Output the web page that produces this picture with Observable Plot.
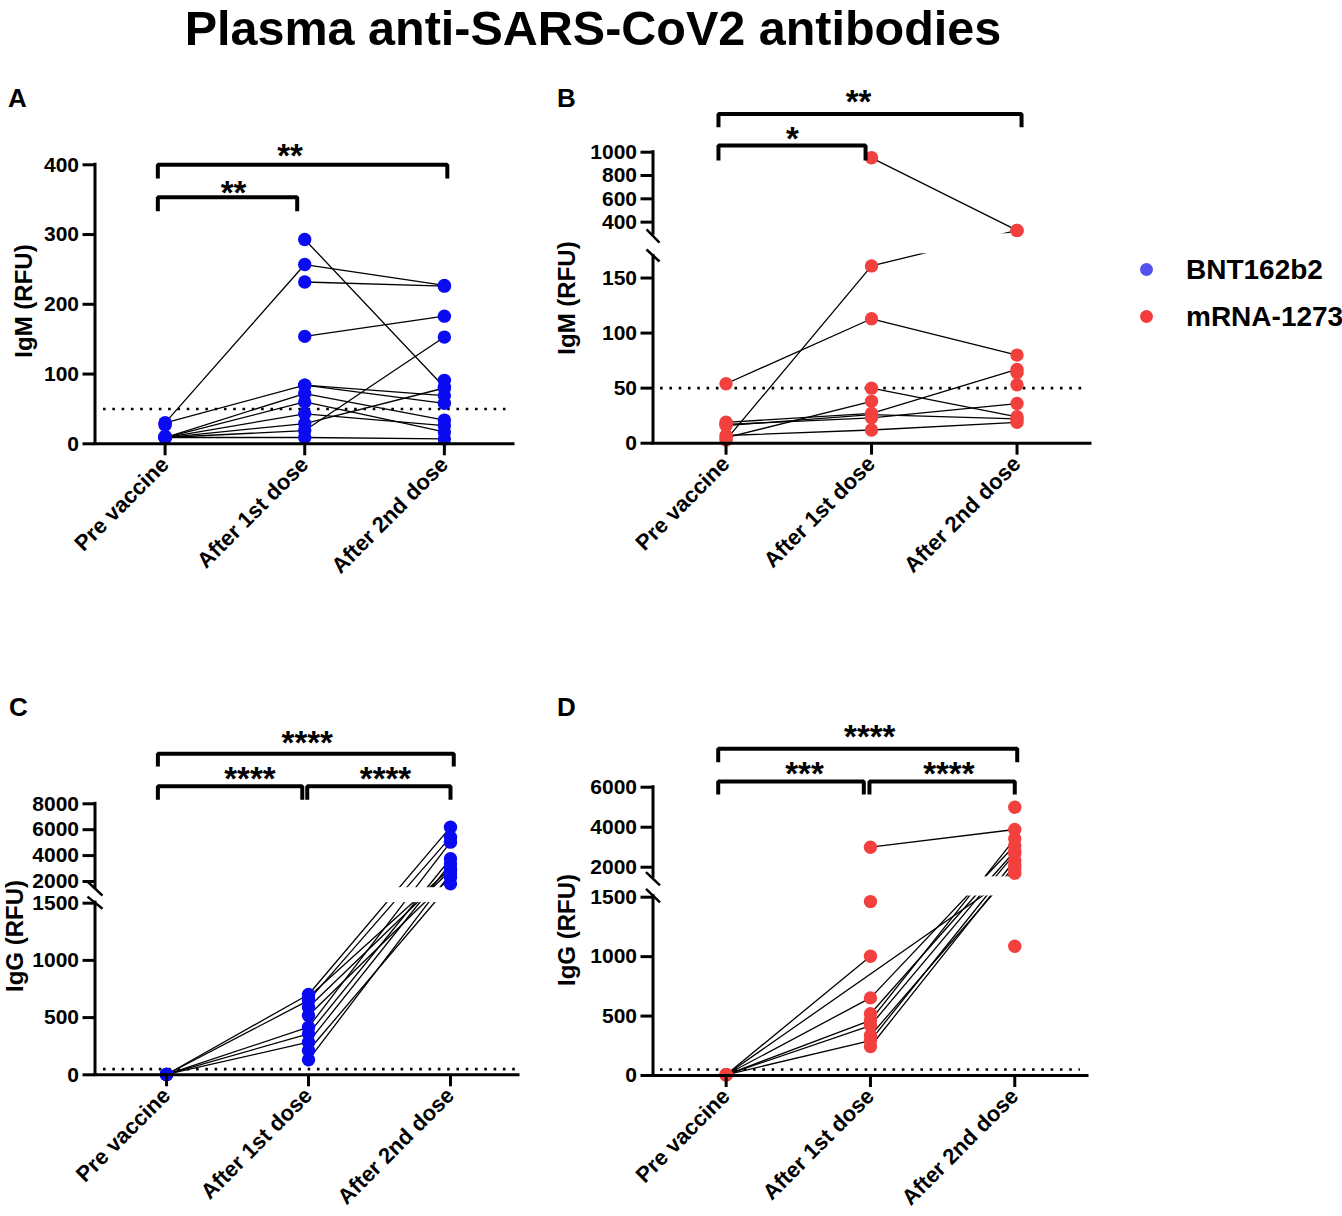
<!DOCTYPE html>
<html><head><meta charset="utf-8">
<script src="https://cdn.jsdelivr.net/npm/d3@7"></script>
<script src="https://cdn.jsdelivr.net/npm/@observablehq/plot@0.6"></script>
<style>
body{margin:0;background:#fff;font-family:"Liberation Sans",Arial,sans-serif;font-weight:bold;color:#000}
#page{position:relative;width:1342px;height:1216px;overflow:hidden;background:#fff}
.abs{position:absolute;white-space:nowrap}
.title{left:0;width:1186px;top:3.5px;font-size:48.5px;line-height:48px;text-align:center}
.letter{font-size:26px;line-height:30px}
.ylab{font-size:24px;line-height:28px;width:200px;text-align:center;transform:translate(-50%,-50%) rotate(-90deg)}
.leg{font-size:28px;line-height:32px;left:1186px}
.dot{position:absolute;width:13px;height:13px;border-radius:50%}
.panel{position:absolute}
</style></head><body><div id="page">
<div class="abs title">Plasma anti-SARS-CoV2 antibodies</div>
<div class="abs letter" style="left:8px;top:83px">A</div>
<div class="abs letter" style="left:557px;top:83px">B</div>
<div class="abs letter" style="left:9px;top:692px">C</div>
<div class="abs letter" style="left:557px;top:692px">D</div>
<div class="abs ylab" style="left:24px;top:301px">IgM (RFU)</div>
<div class="abs ylab" style="left:567px;top:298px">IgM (RFU)</div>
<div class="abs ylab" style="left:15px;top:936px">IgG (RFU)</div>
<div class="abs ylab" style="left:567px;top:930px">IgG (RFU)</div>
<div class="dot" style="left:1139.5px;top:262.5px;background:#5252f0"></div>
<div class="dot" style="left:1139.5px;top:309.5px;background:#f43c3c"></div>
<div class="abs leg" style="top:254.3px">BNT162b2</div>
<div class="abs leg" style="top:301.3px">mRNA-1273</div>
<div id="pA" class="panel" style="left:0;top:60px"></div>
<div id="pB" class="panel" style="left:560px;top:60px"></div>
<div id="pC" class="panel" style="left:0;top:690px"></div>
<div id="pD" class="panel" style="left:560px;top:690px"></div>
</div>
<script>
// ---- categories ----
const stages = ["Pre vaccine", "After 1st dose", "After 2nd dose"];

// ---- Panel A: IgM, BNT162b2 (one entry per subject, null = not measured) ----
const aPre   = [30, null, null, null, 30, 9, 9, 9, 9, 9, 9, null, 27, 11, null];
const aDose1 = [257, 293, 232, 154, 84, 72, 60, 43, 19, 29, 9, 84, null, null, null];
const aDose2 = [227, 81, 226, 183, 58, 34, 17, 26, 153, 80, 7, 69, null, null, 91];

// ---- Panel B: IgM, mRNA-1273 ----
const bPre   = [54, 3, null, null, 5, 19, 17, 16, 7, null, null];
const bDose1 = [113, 161, 952, 50, 38, 27, 23, 26, 12, null, null];
const bDose2 = [80, 329, 329, 24, null, 67, 36, 22, 19, 64, 53];

// ---- Panel C: IgG, BNT162b2 ----
const cPre   = [3, 3, 3, 3, 3, null, null, null, null, null];
const cDose1 = [702, 650, 416, 358, 285, 591, 518, 212, 131, 680];
const cDose2 = [6196, 5424, 5037, 3754, 3368, 2850, 2332, 1822, 2600, 3000];

// ---- Panel D: IgG, mRNA-1273 ----
const dPre   = [null, 6, 6, 6, 6, 6, 6, null, null, null, null, null, null];
const dDose1 = [3000, 1003, null, 653, 463, 420, 294, 519, 336, 244, 1463, null, null];
const dDose2 = [3885, null, 1700, 3085, 3420, 2670, 2335, 2800, 1920, 2100, null, 5000, 1087];

// ---- tick labels ----
const aTicks = [0, 100, 200, 300, 400];
const bTicks = [0, 50, 100, 150, 400, 600, 800, 1000];
const cTicks = [0, 500, 1000, 1500, 2000, 4000, 6000, 8000];
const dTicks = [0, 500, 1000, 1500, 2000, 4000, 6000];

// ---- significance annotations ----
const aStars = [{x: 0.895, y: 407, t: "**"}, {x: 0.49, y: 355, t: "**"}];
const bStars = [{x: 0.911, y: 1402, t: "**"}, {x: 0.457, y: 1080, t: "*"}];
const cStars = [{x: 0.991, y: 12459, t: "****"}, {x: 0.587, y: 9623, t: "****"}, {x: 1.542, y: 9623, t: "****"}];
const dStars = [{x: 0.995, y: 8355, t: "****"}, {x: 0.543, y: 6470, t: "***"}, {x: 1.543, y: 6470, t: "****"}];

const BLUE = "#0b0bf2", RED = "#f2403f";

function rowsOf(pre, d1, d2) {
  const out = [];
  [pre, d1, d2].forEach((arr, j) => arr.forEach((v, i) => { if (v != null) out.push({id: i, stage: j, v}); }));
  return out;
}

function panel(el, c) {
  const rows = rowsOf(...c.series);
  const [x0, x1] = c.xDomain;
  const bpts = [];
  c.brackets.forEach((b, k) => {
    bpts.push({b: k, x: b.x1, y: b.e}, {b: k, x: b.x1, y: b.y}, {b: k, x: b.x2, y: b.y}, {b: k, x: b.x2, y: b.e});
  });
  // broken (segmented) axis: piecewise-linear transform to a 0..1 axis fraction
  const r0 = c.yStops[0], rN = c.yStops[c.yStops.length - 1];
  const brk = d3.scaleLinear().domain(c.yDomain).range(c.yStops.map(r => (r0 - r) / (r0 - rN)));
  const tickPos = c.yTicks.map(t => brk(t));
  const tickLab = new Map(c.yTicks.map((t, i) => [tickPos[i], String(t)]));
  const marks = [
    Plot.line(rows, {x: "stage", y: "v", z: "id", stroke: "#000", strokeWidth: 1.3})
  ];
  if (c.gap) marks.push(Plot.rect([c.gap], {x1: () => x0, x2: () => x1, y1: d => d[0], y2: d => d[1], fill: "white"}));
  marks.push(
    Plot.ruleY([50], {x1: () => c.ref[0], x2: () => c.ref[1], stroke: "#000", strokeWidth: 2.6, strokeDasharray: "2.6 6.7"}),
    Plot.dot(rows, {x: "stage", y: "v", r: 6.7, fill: c.color}),
    Plot.ruleY([0], {stroke: "#000", strokeWidth: 3, strokeLinecap: "square"}),
    Plot.ruleX(c.axisSegs, {x: () => x0, y1: d => d[0], y2: d => d[1], stroke: "#000", strokeWidth: 3, strokeLinecap: "square"}),
    Plot.link(c.slashes, {x1: () => x0 - c.sw, x2: () => x0 + c.sw, y1: d => d[0], y2: d => d[1], stroke: "#000", strokeWidth: 2.5}),
    Plot.line(bpts, {x: "x", y: "y", z: "b", stroke: "#000", strokeWidth: 4, strokeLinejoin: "miter", strokeLinecap: "butt"}),
    Plot.text(c.stars, {x: "x", y: "y", text: "t", fontSize: 33, fontWeight: "bold", lineAnchor: "middle", dy: -3, fill: "#000"}),
    // the axis mark receives positions already on the broken-axis fraction scale
    Plot.axisY({ticks: tickPos, tickFormat: d => tickLab.get(d), tickSize: 12, tickPadding: 4, strokeWidth: 3, fontSize: 21, fontWeight: "bold", label: null}),
    Plot.axisX({ticks: [0, 1, 2], tickFormat: i => stages[i], tickRotate: -45, tickSize: 12, tickPadding: 5, strokeWidth: 3, fontSize: 22, fontWeight: "bold", label: null})
  );
  const p = Plot.plot({
    width: c.width, height: c.height,
    marginLeft: c.ml, marginRight: c.mr, marginTop: rN, marginBottom: c.height - r0,
    x: {domain: c.xDomain},
    y: {transform: brk, domain: [0, 1], range: [r0, rN]},
    style: {fontFamily: "'Liberation Sans', Arial, sans-serif", fontWeight: "bold", color: "#000", background: "transparent", overflow: "visible"},
    marks
  });
  document.getElementById(el).appendChild(p);
}

panel("pA", {
  series: [aPre, aDose1, aDose2], color: BLUE,
  width: 540, height: 560, ml: 94.5, mr: 27,
  xDomain: [-0.502, 2.495], yDomain: [0, 400], yStops: [383.3, 104.3],
  yTicks: aTicks, ref: [-0.441, 2.453],
  axisSegs: [[0, 400]], slashes: [], sw: 0, gap: null,
  brackets: [{x1: -0.052, x2: 2.021, y: 400, e: 380.4}, {x1: -0.052, x2: 0.946, y: 353.5, e: 333.5}],
  stars: aStars
});
panel("pB", {
  series: [bPre, bDose1, bDose2], color: RED,
  width: 560, height: 560, ml: 92.5, mr: 30,
  xDomain: [-0.502, 2.505], yDomain: [0, 172, 300, 1000], yStops: [382.7, 193.3, 173.3, 91.7],
  yTicks: bTicks, ref: [-0.45, 2.47],
  axisSegs: [[0, 170], [300, 1000]], slashes: [[337, 244], [199.5, 165]], sw: 0.0447, gap: [172, 300],
  brackets: [{x1: -0.052, x2: 2.031, y: 1327, e: 1214}, {x1: -0.052, x2: 0.959, y: 1057, e: 929}],
  stars: bStars
});
panel("pC", {
  series: [cPre, cDose1, cDose2], color: BLUE,
  width: 540, height: 526, ml: 94.5, mr: 22,
  xDomain: [-0.504, 2.479], yDomain: [0, 1505, 1520, 8000], yStops: [384.3, 212.1, 197.2, 113.3],
  yTicks: cTicks, ref: [-0.444, 2.479],
  axisSegs: [[0, 1505], [1520, 8000]], slashes: [[2000, 1512], [1511, 1451]], sw: 0.053, gap: [1505, 1520],
  brackets: [{x1: -0.061, x2: 2.023, y: 11864, e: 10883}, {x1: -0.061, x2: 0.956, y: 9360, e: 8309}, {x1: 0.991, x2: 2.0, y: 9360, e: 8309}],
  stars: cStars
});
panel("pD", {
  series: [dPre, dDose1, dDose2], color: RED,
  width: 560, height: 526, ml: 92.5, mr: 33,
  xDomain: [-0.507, 2.504], yDomain: [0, 1510, 1520, 6000], yStops: [385, 205.5, 186.3, 96.7],
  yTicks: dTicks, ref: [-0.455, 2.455],
  axisSegs: [[0, 1510], [1520, 6000]], slashes: [[1750, 1515.5], [1513.7, 1457]], sw: 0.0485, gap: [1510, 1520],
  brackets: [{x1: -0.055, x2: 2.017, y: 7920, e: 7250}, {x1: -0.055, x2: 0.954, y: 6285, e: 5635}, {x1: 0.993, x2: 2.0, y: 6285, e: 5635}],
  stars: dStars
});
</script>
</body></html>
